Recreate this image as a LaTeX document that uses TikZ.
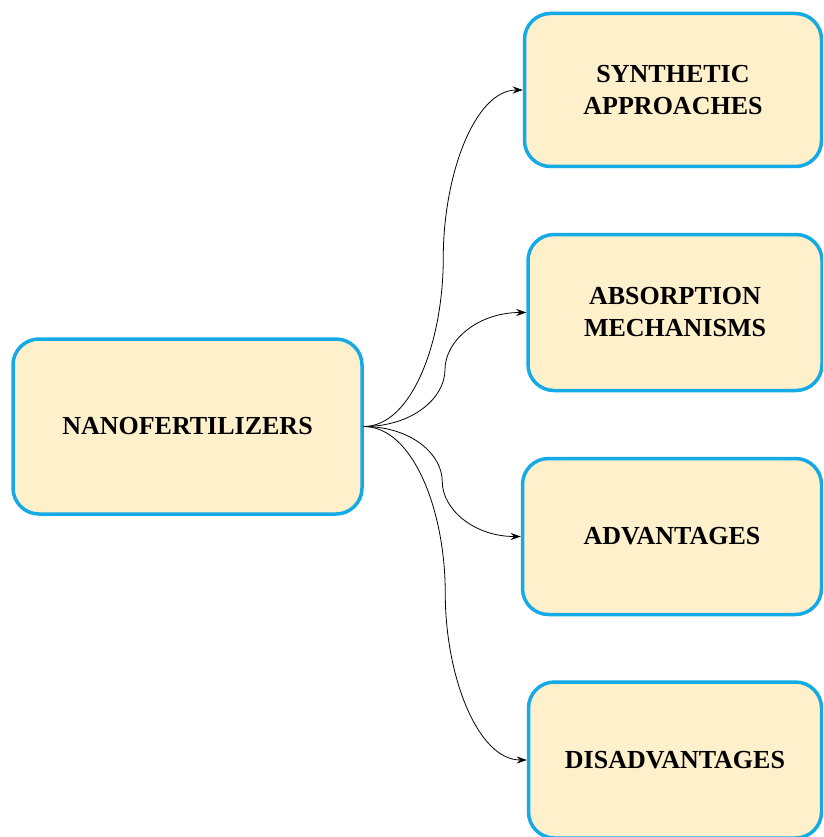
\documentclass[tikz,border=0pt]{standalone}
\usepackage{fontspec}
\setmainfont{Liberation Serif}
\usetikzlibrary{arrows.meta, calc}

\definecolor{boxfill}{HTML}{FFF0CC}
\definecolor{boxline}{HTML}{14AAE6}

\begin{document}
\begin{tikzpicture}[x=1pt, y=-1pt,
    topic/.style={draw=boxline, fill=boxfill, line width=3.5pt, rounded corners=26pt,
        align=center, font=\bfseries\fontsize{26}{32}\selectfont},
    link/.style={-{Stealth[length=10pt, width=7pt]}, line width=0.8pt}]
    \clip (0,0) rectangle (823,837);
    \fill[white] (0,0) rectangle (823,837);

    % root
    \node[topic, minimum width=349pt, minimum height=175pt] (nano) at (187.5,426.5) {NANOFERTILIZERS};

    % branches
    \node[topic, minimum width=297pt, minimum height=153pt] (syn) at (673,90) {SYNTHETIC\\APPROACHES};
    \node[topic, minimum width=294pt, minimum height=156pt] (abs) at (675,312.5) {ABSORPTION\\MECHANISMS};
    \node[topic, minimum width=299pt, minimum height=156pt] (adv) at (672,536.5) {ADVANTAGES};
    \node[topic, minimum width=293pt, minimum height=156pt] (dis) at (675,760) {DISADVANTAGES};

    % connectors
    \foreach \t in {syn,abs,adv,dis} {
        \coordinate (m) at ($(nano.east)!0.5!(\t.west)$);
        \draw[link] (nano.east)
            .. controls ($(nano.east)!0.6!(m |- nano.east)$) and ($(m)!0.5!(m |- nano.east)$) .. (m)
            .. controls ($(m)!0.5!(m |- \t.west)$) and ($(\t.west)!0.6!(m |- \t.west)$) .. (\t.west);
    }
\end{tikzpicture}
\end{document}
